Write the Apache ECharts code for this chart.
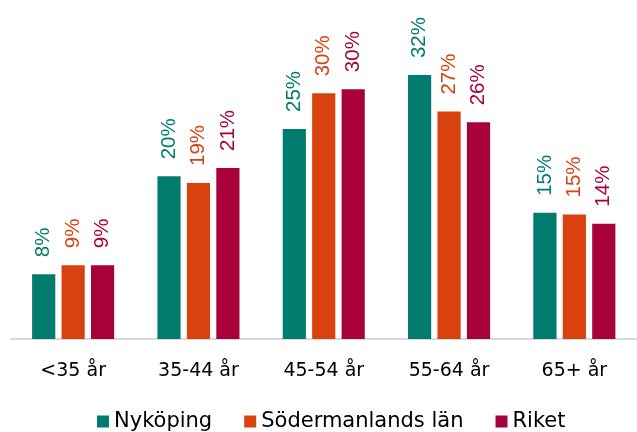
<!DOCTYPE html>
<html>
<head>
<meta charset="utf-8">
<script src="https://cdn.jsdelivr.net/npm/echarts@6/dist/echarts.min.js"></script>
<style>
html,body{margin:0;padding:0;background:#fff;}
#c{width:637px;height:432px;}
</style>
</head>
<body>
<div id="c"></div>
<script>
const categories = ['<35 år', '35-44 år', '45-54 år', '55-64 år', '65+ år'];
const seriesNames = ['Nyköping', 'Södermanlands län', 'Riket'];
const nykoping = [7.8, 19.6, 25.3, 31.8, 15.2];
const sodermanland = [8.9, 18.8, 29.6, 27.4, 15.0];
const riket = [8.9, 20.6, 30.1, 26.1, 13.9];
const colors = ['#007b6e', '#d9410f', '#a8003b'];

const chart = echarts.init(document.getElementById('c'), null, {renderer: 'canvas'});

function mkSeries(name, data, color) {
  return {
    name: name,
    type: 'bar',
    data: data,
    barWidth: '18.5%',
    barGap: '27%',
    itemStyle: {color: color},
    label: {
      show: true,
      position: 'top',
      distance: 17,
      rotate: 90,
      align: 'left',
      verticalAlign: 'middle',
      color: color,
      fontFamily: 'Liberation Sans',
      fontSize: 20.5,
      formatter: p => Math.round(p.value) + '%'
    }
  };
}

chart.setOption({
  animation: false,
  backgroundColor: '#ffffff',
  color: colors,
  grid: {left: 10.5, right: -5, top: 7, bottom: 93, containLabel: false},
  legend: {
    left: 92,
    top: 406,
    itemWidth: 12,
    itemHeight: 12,
    itemGap: 32,
    icon: 'rect',
    textStyle: {fontFamily: 'DejaVu Sans', fontSize: 21, color: '#000'},
    data: seriesNames
  },
  xAxis: {
    type: 'category',
    data: categories,
    axisTick: {show: false},
    axisLine: {show: true, lineStyle: {color: '#d9d9d9', width: 2}},
    axisLabel: {fontFamily: 'DejaVu Sans', fontSize: 19, color: '#000', margin: 23}
  },
  yAxis: {
    type: 'value',
    min: 0,
    max: 40,
    show: false,
    splitLine: {show: false}
  },
  series: [
    mkSeries(seriesNames[0], nykoping, colors[0]),
    mkSeries(seriesNames[1], sodermanland, colors[1]),
    mkSeries(seriesNames[2], riket, colors[2])
  ]
});
</script>
</body>
</html>
